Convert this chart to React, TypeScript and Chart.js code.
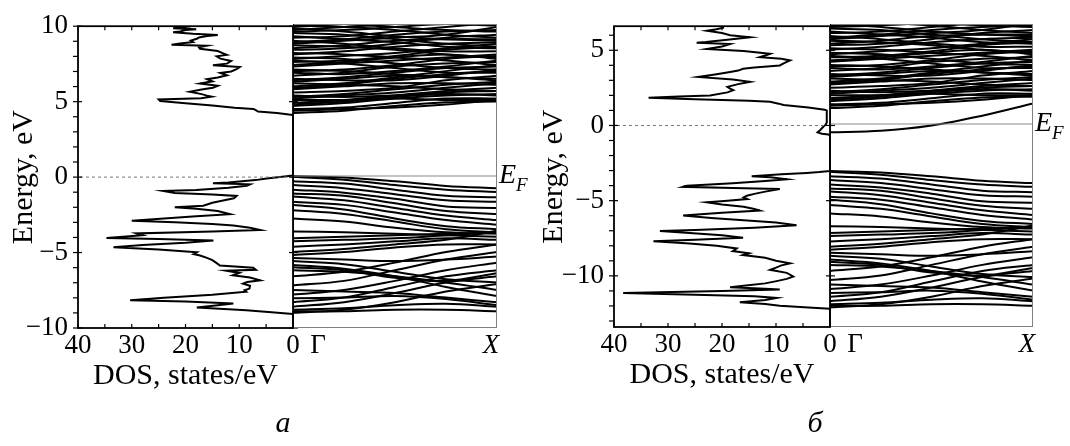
import React, { useEffect, useRef } from "react";
import { Chart, registerables } from "chart.js";

Chart.register(...registerables);

const SERIF = "Liberation Serif";
const SERIF_HTML = '"Liberation Serif", "Times New Roman", serif';

Chart.defaults.font.family = SERIF;
Chart.defaults.font.size = 27;
Chart.defaults.color = "#000";

// ---------- data ----------
// k-path from Γ (0) to X (1)
const K_POINTS = [0, 0.25, 0.5, 0.75, 1];

// DOS x-axis ticks (states/eV), labels every 10
const DOS_TICKS = [0, 5, 10, 15, 20, 25, 30, 35, 40];
const DOS_RANGE = [0, 40];

// Energy ticks (eV), labels every 5
const Y_TICKS_A = [-10, -9, -8, -7, -6, -5, -4, -3, -2, -1, 0, 1, 2, 3, 4, 5, 6, 7, 8, 9, 10];
const Y_TICKS_B = [-13, -12, -11, -10, -9, -8, -7, -6, -5, -4, -3, -2, -1, 0, 1, 2, 3, 4, 5, 6];
const Y_RANGE_A = [-10, 10];
const Y_RANGE_B = [-13.4, 6.6];

// Band energies (eV) at K_POINTS — panel а
const BANDS_A_VALENCE = [
  [0.0, -0.1, -0.35, -0.65, -0.8],
  [-0.05, -0.25, -0.6, -0.9, -1.05],
  [-0.35, -0.5, -0.9, -1.3, -1.4],
  [-0.6, -0.8, -1.2, -1.6, -1.7],
  [-0.9, -1.1, -1.5, -2.0, -2.1],
  [-1.15, -1.3, -1.8, -2.3, -2.5],
  [-1.35, -1.6, -2.1, -2.6, -2.9],
  [-1.7, -1.9, -2.4, -2.9, -3.2],
  [-1.9, -2.2, -2.8, -3.3, -3.5],
  [-2.25, -2.5, -3.0, -3.5, -3.7],
  [-2.8, -3.0, -3.4, -3.7, -3.8],
  [-3.65, -3.7, -3.8, -3.9, -4.0],
  [-4.1, -4.0, -3.9, -3.8, -3.75],
  [-4.3, -4.2, -4.1, -3.9, -3.7],
  [-4.65, -4.5, -4.3, -4.1, -4.2],
  [-5.0, -4.8, -4.5, -4.2, -3.6],
  [-5.2, -5.0, -4.7, -4.5, -4.5],
  [-5.4, -5.5, -5.6, -5.5, -5.3],
  [-5.85, -6.1, -6.6, -7.3, -7.9],
  [-6.2, -6.3, -6.6, -7.0, -7.5],
  [-6.6, -6.3, -5.7, -5.0, -4.5],
  [-7.2, -6.9, -6.2, -5.5, -5.0],
  [-7.5, -7.6, -7.7, -8.0, -8.3],
  [-7.8, -7.5, -6.9, -6.2, -5.7],
  [-8.05, -8.0, -7.9, -8.1, -8.5],
  [-8.3, -8.0, -7.3, -6.6, -6.2],
  [-8.6, -8.3, -7.7, -7.0, -6.6],
  [-8.8, -8.7, -8.5, -8.4, -8.6],
  [-9.0, -8.8, -8.3, -7.6, -7.1],
  [-8.9, -8.9, -8.8, -8.8, -8.9],
  [-6.0, -6.2, -6.7, -6.9, -6.4],
  [-5.6, -5.8, -6.3, -6.8, -7.0],
];

const BANDS_A_CONDUCTION = [
  [4.15, 4.3, 4.6, 4.85, 4.9],
  [4.4, 4.5, 4.8, 5.1, 5.1],
  [4.6, 4.8, 5.1, 5.3, 5.4],
  [4.8, 5.0, 5.3, 5.6, 5.8],
  [5.0, 5.0, 5.1, 5.0, 5.0],
  [5.2, 5.4, 5.7, 6.0, 6.2],
  [5.5, 5.6, 5.8, 6.3, 6.6],
  [5.8, 6.0, 6.4, 6.7, 6.9],
  [6.1, 6.0, 5.9, 5.7, 5.6],
  [6.3, 6.5, 6.8, 7.1, 7.2],
  [6.6, 6.8, 7.2, 7.4, 7.5],
  [7.0, 6.9, 6.7, 6.5, 6.4],
  [7.2, 7.4, 7.6, 7.8, 8.0],
  [7.5, 7.6, 7.9, 8.3, 8.5],
  [7.8, 7.7, 7.4, 7.1, 7.0],
  [8.0, 8.2, 8.5, 8.7, 8.8],
  [8.3, 8.4, 8.7, 9.1, 9.3],
  [8.6, 8.5, 8.3, 8.0, 7.8],
  [8.8, 9.0, 9.3, 9.5, 9.6],
  [9.1, 9.2, 9.5, 9.8, 10.1],
  [9.4, 9.3, 9.0, 8.7, 8.5],
  [9.6, 9.8, 10.0, 10.2, 10.3],
  [9.9, 9.8, 9.6, 9.3, 9.1],
  [10.2, 10.0, 9.8, 9.6, 9.5],
  [6.9, 7.0, 7.3, 7.7, 7.9],
  [5.7, 5.9, 6.1, 6.1, 6.0],
  [7.6, 7.4, 7.1, 6.8, 6.8],
  [8.9, 8.7, 8.4, 8.2, 8.2],
  [9.7, 9.5, 9.2, 9.0, 8.9],
  [6.4, 6.3, 6.3, 6.6, 7.0],
  [4.3, 4.4, 4.5, 4.7, 5.0],
  [5.3, 5.2, 5.3, 5.5, 5.6],
  [5.9, 6.1, 6.5, 6.9, 7.3],
  [6.2, 6.4, 6.6, 6.5, 6.3],
  [6.8, 6.7, 6.9, 7.2, 7.6],
  [7.3, 7.5, 7.8, 8.0, 7.7],
  [7.7, 7.9, 8.1, 8.4, 8.7],
  [8.1, 8.0, 7.8, 7.6, 7.3],
  [8.4, 8.6, 8.9, 9.0, 9.0],
  [8.7, 8.9, 9.1, 9.3, 9.8],
  [9.2, 9.0, 8.8, 8.5, 8.4],
  [9.5, 9.6, 9.8, 10.0, 9.9],
  [9.8, 10.0, 10.2, 10.3, 10.4],
  [5.1, 5.3, 5.5, 5.8, 6.1],
  [4.7, 4.9, 5.2, 5.4, 5.3],
];

// Band energies (eV) at K_POINTS — panel б
const BANDS_B_VALENCE = [
  [-3.1, -3.2, -3.45, -3.75, -3.9],
  [-3.15, -3.35, -3.7, -4.0, -4.15],
  [-3.45, -3.6, -4.0, -4.4, -4.5],
  [-3.7, -3.9, -4.3, -4.7, -4.8],
  [-4.0, -4.2, -4.6, -5.1, -5.2],
  [-4.25, -4.4, -4.9, -5.4, -5.6],
  [-4.45, -4.7, -5.2, -5.7, -6.0],
  [-4.8, -5.0, -5.5, -6.0, -6.3],
  [-5.0, -5.3, -5.9, -6.4, -6.6],
  [-5.35, -5.6, -6.1, -6.6, -6.8],
  [-5.9, -6.1, -6.5, -6.8, -6.9],
  [-6.75, -6.8, -6.9, -7.0, -7.1],
  [-7.2, -7.1, -7.0, -6.9, -6.85],
  [-7.4, -7.3, -7.2, -7.0, -6.8],
  [-7.75, -7.6, -7.4, -7.2, -7.3],
  [-8.1, -7.9, -7.6, -7.3, -6.7],
  [-8.3, -8.1, -7.8, -7.6, -7.6],
  [-8.5, -8.6, -8.7, -8.6, -8.4],
  [-8.95, -9.2, -9.7, -10.4, -11.0],
  [-9.3, -9.4, -9.7, -10.1, -10.6],
  [-9.7, -9.4, -8.8, -8.1, -7.6],
  [-10.3, -10.0, -9.3, -8.6, -8.1],
  [-10.6, -10.7, -10.8, -11.1, -11.4],
  [-10.9, -10.6, -10.0, -9.3, -8.8],
  [-11.15, -11.1, -11.0, -11.2, -11.6],
  [-11.4, -11.1, -10.4, -9.7, -9.3],
  [-11.7, -11.4, -10.8, -10.1, -9.7],
  [-11.9, -11.8, -11.6, -11.5, -11.7],
  [-12.1, -11.9, -11.4, -10.7, -10.2],
  [-12.0, -12.0, -11.9, -11.9, -12.0],
  [-9.1, -9.3, -9.8, -10.0, -9.5],
  [-8.7, -8.9, -9.4, -9.9, -10.1],
];

const BANDS_B_DEFECT = [[-0.55, -0.45, -0.1, 0.55, 1.35]];

const BANDS_B_CONDUCTION = [
  [1.05, 1.2, 1.5, 1.75, 1.8],
  [1.3, 1.4, 1.7, 2.0, 2.0],
  [1.5, 1.7, 2.0, 2.2, 2.3],
  [1.7, 1.9, 2.2, 2.5, 2.7],
  [1.9, 1.9, 2.0, 1.9, 1.9],
  [2.1, 2.3, 2.6, 2.9, 3.1],
  [2.4, 2.5, 2.7, 3.2, 3.5],
  [2.7, 2.9, 3.3, 3.6, 3.8],
  [3.0, 2.9, 2.8, 2.6, 2.5],
  [3.2, 3.4, 3.7, 4.0, 4.1],
  [3.5, 3.7, 4.1, 4.3, 4.4],
  [3.9, 3.8, 3.6, 3.4, 3.3],
  [4.1, 4.3, 4.5, 4.7, 4.9],
  [4.4, 4.5, 4.8, 5.2, 5.4],
  [4.7, 4.6, 4.3, 4.0, 3.9],
  [4.9, 5.1, 5.4, 5.6, 5.7],
  [5.2, 5.3, 5.6, 6.0, 6.2],
  [5.5, 5.4, 5.2, 4.9, 4.7],
  [5.7, 5.9, 6.2, 6.4, 6.5],
  [6.0, 6.1, 6.4, 6.7, 7.0],
  [6.3, 6.2, 5.9, 5.6, 5.4],
  [6.5, 6.7, 6.9, 7.1, 7.2],
  [6.8, 6.7, 6.5, 6.2, 6.0],
  [7.1, 6.9, 6.7, 6.5, 6.4],
  [3.8, 3.9, 4.2, 4.6, 4.8],
  [2.6, 2.8, 3.0, 3.0, 2.9],
  [4.5, 4.3, 4.0, 3.7, 3.7],
  [5.8, 5.6, 5.3, 5.1, 5.1],
  [6.6, 6.4, 6.1, 5.9, 5.8],
  [3.3, 3.2, 3.2, 3.5, 3.9],
  [1.2, 1.3, 1.4, 1.6, 1.9],
  [2.2, 2.1, 2.2, 2.4, 2.5],
  [2.8, 3.0, 3.4, 3.8, 4.2],
  [3.1, 3.3, 3.5, 3.4, 3.2],
  [3.7, 3.6, 3.8, 4.1, 4.5],
  [4.2, 4.4, 4.7, 4.9, 4.6],
  [4.6, 4.8, 5.0, 5.3, 5.6],
  [5.0, 4.9, 4.7, 4.5, 4.2],
  [5.3, 5.5, 5.8, 5.9, 5.9],
  [5.6, 5.8, 6.0, 6.2, 6.7],
  [6.1, 5.9, 5.7, 5.4, 5.3],
  [6.4, 6.5, 6.7, 6.9, 6.8],
  [6.7, 6.9, 7.1, 7.2, 7.3],
  [2.0, 2.2, 2.4, 2.7, 3.0],
  [1.6, 1.8, 2.1, 2.3, 2.2],
];

// DOS: [energy eV, states/eV] — panel а
const DOS_A = [
  [10.0, 19], [9.9, 21.5], [9.87, 22.3], [9.8, 18], [9.75, 20], [9.65, 21], [9.6, 22.3], [9.5, 18.6],
  [9.42, 14], [9.35, 16], [9.25, 17.5], [9.17, 17.9], [9.05, 19], [8.95, 18.6], [8.85, 21], [8.77, 22.6],
  [8.7, 16.1], [8.6, 17.5], [8.5, 17.3], [8.35, 14], [8.2, 13], [8.1, 12.3], [8.0, 14.2], [7.85, 13.5],
  [7.7, 11.5], [7.52, 12.3], [7.41, 14.9], [7.35, 12], [7.3, 9.9], [7.15, 10.5], [7.0, 11.5], [6.9, 13.5],
  [6.75, 12.3], [6.6, 14], [6.49, 16], [6.35, 15], [6.2, 17.3], [6.05, 14], [5.92, 14.9], [5.8, 17],
  [5.66, 19.2], [5.5, 17], [5.4, 16], [5.33, 15.1], [5.22, 17.1], [5.15, 25], [5.04, 24.7], [4.9, 20],
  [4.75, 15], [4.6, 10.9], [4.52, 7.4], [4.45, 7], [4.34, 6.5], [4.25, 3], [4.12, 0],
  [0.1, 0], [0.02, 2], [-0.1, 4.9], [-0.2, 7], [-0.35, 12], [-0.4, 14.9], [-0.48, 8], [-0.57, 8.6],
  [-0.7, 12], [-0.85, 18], [-0.92, 24.1], [-1.05, 22], [-1.15, 15], [-1.25, 10.5], [-1.4, 11], [-1.55, 13],
  [-1.7, 15], [-1.9, 16.7], [-2.0, 22], [-2.1, 18], [-2.25, 14], [-2.46, 11.7], [-2.6, 18], [-2.8, 26],
  [-2.9, 30], [-3.0, 22], [-3.1, 15], [-3.2, 11.1], [-3.35, 8], [-3.5, 6.1], [-3.6, 15], [-3.73, 29.1],
  [-3.85, 28], [-4.03, 34.7], [-4.1, 25], [-4.2, 14.8], [-4.35, 20], [-4.5, 28], [-4.65, 33.4], [-4.8, 25],
  [-4.98, 17.9], [-5.1, 18.5], [-5.2, 17.3], [-5.35, 16], [-5.5, 15], [-5.7, 14.2], [-5.86, 13.6], [-6.0, 7.4],
  [-6.14, 6.9], [-6.2, 12.4], [-6.35, 10], [-6.5, 11.2], [-6.65, 8], [-6.84, 6.1], [-6.95, 8.5], [-7.06, 9.3],
  [-7.2, 8], [-7.39, 8.1], [-7.5, 9], [-7.6, 8.7], [-7.8, 15], [-8.0, 24], [-8.16, 30.3], [-8.25, 20],
  [-8.38, 11.1], [-8.5, 14], [-8.64, 17.9], [-8.75, 12], [-8.82, 8.7], [-8.95, 4], [-9.08, 0], [-10, 0],
];

// DOS: [energy eV, states/eV] — panel б
const DOS_B = [
  [6.6, 19.8], [6.5, 19.8], [6.4, 21], [6.3, 22.8], [6.15, 20], [6.0, 18.5], [5.86, 14.8], [5.7, 19],
  [5.55, 23], [5.5, 24.7], [5.42, 18.5], [5.25, 20], [5.09, 22.8], [4.95, 16], [4.76, 11.1], [4.65, 12],
  [4.54, 13], [4.43, 9], [4.32, 7.4], [4.15, 8.5], [3.99, 9.3], [3.85, 14], [3.77, 16.1], [3.65, 17],
  [3.55, 18.5], [3.4, 21], [3.22, 24.4], [3.05, 18], [2.9, 14.8], [2.75, 17], [2.57, 19], [2.45, 18.5],
  [2.35, 17.9], [2.2, 19], [2.0, 22.2], [1.92, 28], [1.84, 33.6], [1.75, 25], [1.65, 15], [1.58, 11.1],
  [1.45, 9.5], [1.36, 8.6], [1.2, 4], [1.05, 1.0], [1.0, 0.6],
  [0.6, 0.6], [0.2, 0.6], [0.05, 0.8], [-0.07, 1.2], [-0.3, 1.8], [-0.46, 2.3], [-0.55, 1.5], [-0.6, 0.3], [-0.65, 0],
  [-3.03, 0], [-3.1, 2], [-3.16, 4.3], [-3.25, 9], [-3.37, 14.5], [-3.45, 11], [-3.58, 8], [-3.7, 12],
  [-3.85, 18], [-4.01, 26.5], [-4.08, 27.2], [-4.15, 18], [-4.23, 9.3], [-4.4, 12], [-4.55, 14], [-4.67, 15.4],
  [-4.78, 16], [-4.89, 15.3], [-5.0, 19], [-5.11, 22.8], [-5.25, 20], [-5.4, 16], [-5.55, 14], [-5.66, 13],
  [-5.8, 20], [-5.99, 27.2], [-6.15, 22], [-6.3, 16], [-6.45, 10], [-6.64, 6.2], [-6.8, 14], [-6.95, 25],
  [-7.02, 31.5], [-7.15, 26], [-7.3, 20], [-7.46, 16.1], [-7.6, 25], [-7.7, 32.7], [-7.85, 26], [-8.0, 21],
  [-8.18, 17.3], [-8.35, 18], [-8.5, 15], [-8.62, 16.1], [-8.8, 12], [-9.0, 10], [-9.17, 7.4], [-9.3, 9],
  [-9.45, 10], [-9.6, 11.1], [-9.8, 8], [-10.04, 6.8], [-10.2, 8], [-10.35, 9.9], [-10.5, 12], [-10.65, 16],
  [-10.75, 18.5], [-10.85, 12], [-10.9, 9.3], [-11.0, 20], [-11.14, 38.3], [-11.25, 25], [-11.35, 14], [-11.47, 9.9],
  [-11.6, 12], [-11.76, 16.7], [-11.87, 12], [-11.98, 9.3], [-12.1, 4], [-12.19, 0], [-13.4, 0],
];

// ---------- layout ----------
const W = 1070;
const H = 446;
const Y_AXIS_W = 78;
const X_AXIS_H = 70;
const TICK_FONT = 27;
const TITLE_FONT = 30;

type Panel = {
  dosLeft: number; split: number; right: number; top: number; bottom: number;
  yRange: number[]; yTicks: number[]; dos: number[][]; bands: number[][];
  titlePad: number; label: string; labelX: number;
};

const PANEL_A: Panel = {
  dosLeft: 78, split: 293, right: 497, top: 24, bottom: 328,
  yRange: Y_RANGE_A, yTicks: Y_TICKS_A, dos: DOS_A,
  bands: [...BANDS_A_VALENCE, ...BANDS_A_CONDUCTION],
  titlePad: 6, label: "а", labelX: 283,
};
const PANEL_B: Panel = {
  dosLeft: 614, split: 830, right: 1033, top: 24, bottom: 327,
  yRange: Y_RANGE_B, yTicks: Y_TICKS_B, dos: DOS_B,
  bands: [...BANDS_B_VALENCE, ...BANDS_B_DEFECT, ...BANDS_B_CONDUCTION],
  titlePad: 0, label: "б", labelX: 815,
};

const fmtNum = (v: number) => (v < 0 ? "\u2212" + Math.abs(v) : String(v));

function line(ctx: CanvasRenderingContext2D, x1: number, y1: number, x2: number, y2: number) {
  ctx.beginPath();
  ctx.moveTo(x1, y1);
  ctx.lineTo(x2, y2);
  ctx.stroke();
}

const dosDecor = {
  id: "dosDecor",
  afterDatasetsDraw(chart: any) {
    const { ctx, chartArea: a, scales } = chart;
    const x = scales.x, y = scales.y;
    ctx.save();
    ctx.strokeStyle = "#000";
    ctx.lineWidth = 1.2;
    x.ticks.forEach((t: any) => {
      const px = x.getPixelForValue(t.value);
      line(ctx, px, a.top, px, a.top + 4);
      line(ctx, px, a.bottom, px, a.bottom - 4);
    });
    y.ticks.forEach((t: any) => {
      const py = y.getPixelForValue(t.value);
      const major = t.value % 5 === 0;
      line(ctx, a.left - 5, py, a.left + (major ? 4 : 0), py);
      if (major) line(ctx, a.right - 4, py, a.right + 5, py);
    });
    ctx.lineWidth = 1.8;
    ctx.strokeRect(a.left, a.top, a.right - a.left, a.bottom - a.top);
    ctx.restore();
  },
};

const bandDecor = {
  id: "bandDecor",
  afterDatasetsDraw(chart: any) {
    const { ctx, chartArea: a, scales } = chart;
    ctx.save();
    ctx.strokeStyle = "#808080";
    ctx.lineWidth = 1;
    line(ctx, a.left, a.top + 0.5, a.right, a.top + 0.5);
    line(ctx, a.right - 0.5, a.top, a.right - 0.5, a.bottom);
    line(ctx, a.left, a.bottom - 0.5, a.right, a.bottom - 0.5);
    ctx.strokeStyle = "#000";
    ctx.lineWidth = 1.8;
    line(ctx, a.left, a.top, a.left, a.bottom);
    // k-point labels
    ctx.fillStyle = "#000";
    ctx.textBaseline = "middle";
    ctx.textAlign = "center";
    const ly = a.bottom + 2 + TICK_FONT * 0.6;
    ctx.font = `${TICK_FONT}px "${SERIF}"`;
    ctx.fillText("\u0393", scales.x.getPixelForValue(K_POINTS[0]) + 25, ly);
    ctx.font = `italic ${TICK_FONT}px "${SERIF}"`;
    ctx.fillText("X", scales.x.getPixelForValue(K_POINTS[K_POINTS.length - 1]) - 6, ly);
    ctx.restore();
  },
};

const tickFont = { family: SERIF, size: TICK_FONT, style: "normal" as const, weight: "normal" as const };
const titleFont = { family: SERIF, size: TITLE_FONT, style: "normal" as const, weight: "normal" as const };

function dosConfig(p: Panel): any {
  const canvasLeft = p.dosLeft - Y_AXIS_W;
  const width = p.split - canvasLeft + 17;
  return {
    left: canvasLeft,
    width,
    config: {
      type: "scatter",
      data: {
        datasets: [
          {
            data: [{ x: DOS_RANGE[0], y: 0 }, { x: DOS_RANGE[1], y: 0 }],
            showLine: true, borderColor: "#777", borderWidth: 1, borderDash: [3, 3], pointRadius: 0,
          },
          {
            data: p.dos.map(([e, d]) => ({ x: d, y: e })),
            showLine: true, borderColor: "#000", borderWidth: 2, pointRadius: 0, tension: 0,
          },
        ],
      },
      options: {
        animation: false,
        responsive: false,
        events: [],
        layout: { padding: { left: 0, top: p.top, right: width - (p.split - canvasLeft), bottom: H - p.bottom - X_AXIS_H } },
        plugins: { legend: { display: false }, tooltip: { enabled: false } },
        scales: {
          x: {
            type: "linear", min: DOS_RANGE[0], max: DOS_RANGE[1], reverse: true,
            afterBuildTicks: (s: any) => { s.ticks = DOS_TICKS.map((v) => ({ value: v })); },
            afterFit: (s: any) => { s.height = X_AXIS_H; },
            ticks: {
              autoSkip: false, maxRotation: 0, padding: 2, color: "#000", font: tickFont,
              callback: (v: any) => (Number(v) % 10 === 0 ? fmtNum(Number(v)) : ""),
            },
            grid: { display: false, drawTicks: false },
            border: { display: false },
            title: {
              display: true, text: "DOS, states/eV", color: "#000", font: titleFont,
              padding: { top: 0, bottom: 4 },
            },
          },
          y: {
            type: "linear", min: p.yRange[0], max: p.yRange[1],
            afterBuildTicks: (s: any) => { s.ticks = p.yTicks.map((v) => ({ value: v })); },
            afterFit: (s: any) => { s.width = Y_AXIS_W; },
            ticks: {
              autoSkip: false, padding: 10, color: "#000", font: tickFont,
              callback: (v: any) => (Number(v) % 5 === 0 ? fmtNum(Number(v)) : ""),
            },
            grid: { display: false, drawTicks: false },
            border: { display: false },
            title: {
              display: true, text: "Energy, eV", color: "#000", font: titleFont,
              padding: { top: p.titlePad, bottom: 0 },
            },
          },
        },
      },
      plugins: [dosDecor],
    },
  };
}

function bandConfig(p: Panel): any {
  const width = p.right - p.split + 20;
  return {
    left: p.split,
    width,
    config: {
      type: "scatter",
      data: {
        datasets: [
          {
            data: [{ x: K_POINTS[0], y: 0 }, { x: K_POINTS[K_POINTS.length - 1], y: 0 }],
            showLine: true, borderColor: "#8a8a8a", borderWidth: 1.2, pointRadius: 0,
          },
          ...p.bands.map((b) => ({
            data: b.map((e, i) => ({ x: K_POINTS[i], y: e })),
            showLine: true, borderColor: "#000", borderWidth: 2, pointRadius: 0, tension: 0.35,
          })),
        ],
      },
      options: {
        animation: false,
        responsive: false,
        events: [],
        layout: { padding: { left: 0, top: p.top, right: 20, bottom: H - p.bottom } },
        plugins: { legend: { display: false }, tooltip: { enabled: false } },
        scales: {
          x: { type: "linear", min: K_POINTS[0], max: K_POINTS[K_POINTS.length - 1], display: false },
          y: { type: "linear", min: p.yRange[0], max: p.yRange[1], display: false },
        },
      },
      plugins: [bandDecor],
    },
  };
}

function ChartCanvas({ spec }: { spec: any }) {
  const ref = useRef<HTMLCanvasElement>(null);
  useEffect(() => {
    const chart = new Chart(ref.current as HTMLCanvasElement, spec.config);
    return () => chart.destroy();
  }, []);
  return (
    <canvas
      ref={ref}
      width={spec.width}
      height={H}
      style={{ position: "absolute", left: spec.left, top: 0, width: spec.width, height: H }}
    />
  );
}

function PanelView({ p }: { p: Panel }) {
  const zeroY = p.top + (p.yRange[1] / (p.yRange[1] - p.yRange[0])) * (p.bottom - p.top);
  return (
    <>
      <ChartCanvas spec={dosConfig(p)} />
      <ChartCanvas spec={bandConfig(p)} />
      <div
        style={{
          position: "absolute", left: p.right + 2, top: zeroY - 16, fontFamily: SERIF_HTML,
          fontStyle: "italic", fontSize: 28, lineHeight: "28px", whiteSpace: "nowrap", color: "#000",
        }}
      >
        E<span style={{ fontSize: 19, position: "relative", top: 8 }}>F</span>
      </div>
      <div
        style={{
          position: "absolute", left: p.labelX - 20, width: 40, top: 407, textAlign: "center",
          fontFamily: SERIF_HTML, fontStyle: "italic", fontSize: 30, lineHeight: "30px", color: "#000",
        }}
      >
        {p.label}
      </div>
    </>
  );
}

export default function App() {
  return (
    <div style={{ position: "fixed", left: 0, top: 0, width: W, height: H, background: "#fff", overflow: "hidden" }}>
      <PanelView p={PANEL_A} />
      <PanelView p={PANEL_B} />
    </div>
  );
}
